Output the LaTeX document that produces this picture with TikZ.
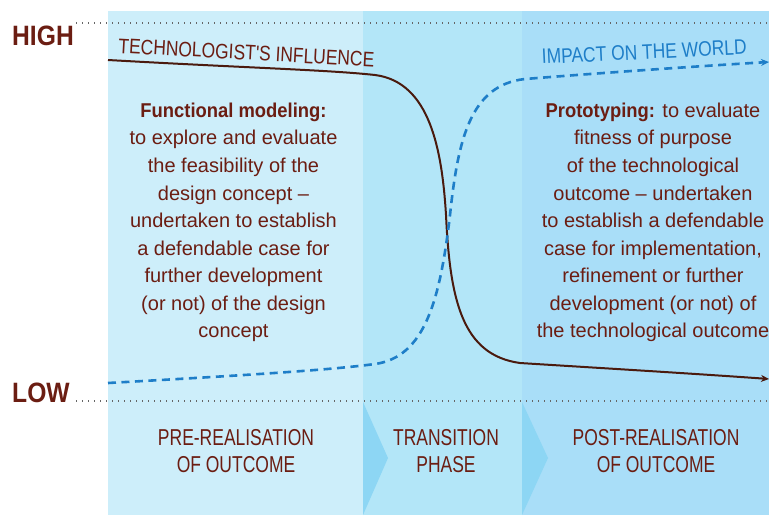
\documentclass[tikz,border=0pt]{standalone}
\usepackage{fontspec}
\setmainfont{Liberation Sans}
\newfontfamily\boldcond{Liberation Sans}[FakeStretch=0.92]
\newfontfamily\headfont{Liberation Sans}[FakeStretch=0.83]
\newfontfamily\labelfont{Liberation Sans}[FakeStretch=0.76]
\newfontfamily\axisfont{Liberation Sans}[FakeStretch=0.88]
\usetikzlibrary{arrows.meta}
\definecolor{brtext}{HTML}{6B1D12}
\definecolor{brline}{HTML}{4A1A0E}
\definecolor{bluel}{HTML}{1E7EC8}
\definecolor{panelA}{HTML}{CDEEFA}
\definecolor{panelB}{HTML}{B3E6F8}
\definecolor{panelC}{HTML}{A9DEF8}
\definecolor{wedge}{HTML}{8DD6F4}
\definecolor{dotgray}{HTML}{666666}
\tikzset{
  panel/.style={draw=none},
  dotline/.style={dotgray, line width=1.4pt, dash pattern=on 1.4pt off 4.6pt},
  axislabel/.style={text=brtext, font=\axisfont\bfseries\fontsize{28}{30}\selectfont, inner sep=0pt, anchor=base west},
  bodytext/.style={text=brtext, font=\fontsize{20}{27.6}\selectfont, align=center, inner sep=0pt, anchor=north},
  phaselabel/.style={text=brtext, font=\labelfont\fontsize{23}{27}\selectfont, align=center, inner sep=0pt, anchor=north},
  curvelabel/.style={font=\headfont\fontsize{21}{24}\selectfont, inner sep=0pt, anchor=base west},
  influence/.style={brline, line width=2pt, -{Stealth[length=8pt,width=7pt]}},
  impact/.style={bluel, line width=2.6pt, dash pattern=on 8pt off 5.5pt, -{Stealth[length=8pt,width=7pt]}},
}
\begin{document}
\begin{tikzpicture}[x=1pt,y=-1pt]
\useasboundingbox (0,0) rectangle (769,515);
% panels
\fill[panelA] (108,11) rectangle (363,515);
\fill[panelB] (363,11) rectangle (522,515);
\fill[panelC] (522,11) rectangle (769,515);
\fill[wedge] (363,402) -- (388,458) -- (363,515) -- cycle;
\fill[wedge] (522,402) -- (548,458) -- (522,515) -- cycle;
% dotted level lines
\coordinate (hiA) at (76,23);
\coordinate (hiB) at (769,23);
\coordinate (loA) at (76,401);
\coordinate (loB) at (769,401);
\draw[dotline] (hiA) -- (hiB);
\draw[dotline] (loA) -- (loB);
\node[axislabel] (high) at (12,45) {HIGH};
\node[axislabel] (low) at (12,402) {LOW};
% curves
\coordinate (infS) at (108,60);
\coordinate (infE) at (769,379);
\draw[influence] (infS) .. controls (250,68) and (330,70) .. (375,75)
  .. controls (430,82) and (442,150) .. (446,215)
  .. controls (450,300) and (462,355) .. (520,363)
  .. controls (600,368) and (700,374) .. (infE);
\coordinate (impS) at (108,383);
\coordinate (impE) at (769,62);
\draw[impact] (impS) .. controls (250,375) and (330,370) .. (375,364)
  .. controls (425,357) and (440,300) .. (450,215)
  .. controls (458,140) and (470,85) .. (525,79)
  .. controls (600,73) and (700,66) .. (impE);
\node[curvelabel, text=brtext, rotate=-3.1] (inflabel) at (118,53) {TECHNOLOGIST'S INFLUENCE};
\node[curvelabel, text=bluel, rotate=2.7] (implabel) at (542,64) {IMPACT ON THE WORLD};
% body texts
\node[bodytext] (func) at (233.5,102.5) {{\boldcond\bfseries Functional modeling:}\\
to explore and evaluate\\
the feasibility of the\\
design concept --\\
undertaken to establish\\
a defendable case for\\
further development\\
(or not) of the design\\
concept};
\node[bodytext] (proto) at (653,102.5) {{\boldcond\bfseries Prototyping:} to evaluate\\
fitness of purpose\\
of the technological\\
outcome -- undertaken\\
to establish a defendable\\
case for implementation,\\
refinement or further\\
development (or not) of\\
the technological outcome};
% phase labels
\node[phaselabel] (pre) at (236,429.5) {PRE-REALISATION\\OF OUTCOME};
\node[phaselabel] (trans) at (446,429.5) {TRANSITION\\PHASE};
\node[phaselabel] (post) at (656,429.5) {POST-REALISATION\\OF OUTCOME};
\end{tikzpicture}
\end{document}
